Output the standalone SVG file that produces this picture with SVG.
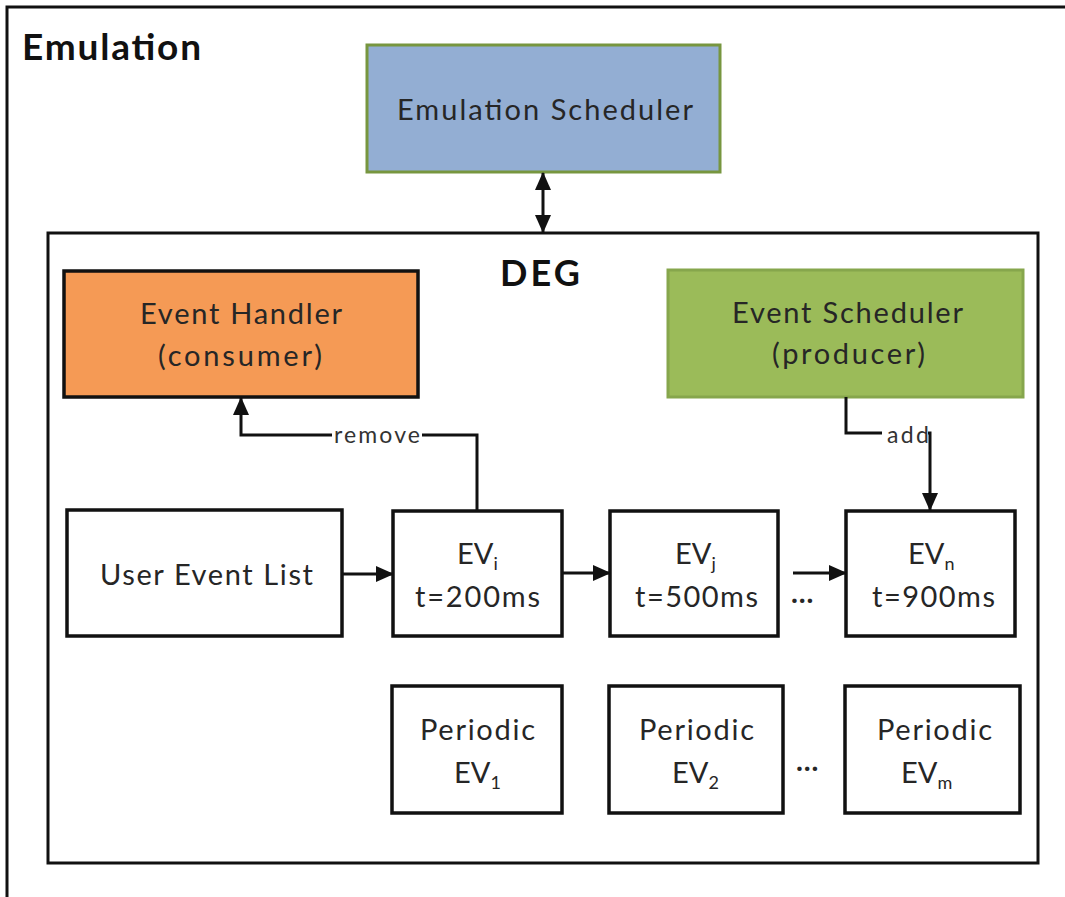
<svg xmlns="http://www.w3.org/2000/svg" width="1065" height="897" viewBox="0 0 1065 897">
  <style>
    .frame { fill: none; stroke: #111; stroke-width: 3; }
    .box { fill: #fff; stroke: #111; stroke-width: 3.5; }
    .lbl { font-family: Lato, "Liberation Sans", sans-serif; font-size: 29px; fill: #262626; }
    .sub { font-size: 18px; }
    .title { font-family: Lato, "Liberation Sans", sans-serif; font-weight: bold; fill: #111; }
    .edge { fill: none; stroke: #111; stroke-width: 3; }
    .elbl { font-family: Lato, "Liberation Sans", sans-serif; font-size: 23px; fill: #333; }
  </style>
  <defs>
    <marker id="arrow" markerUnits="userSpaceOnUse" viewBox="0 0 18 16" refX="17" refY="8" markerWidth="18" markerHeight="16" orient="auto-start-reverse">
      <path d="M0,0 L18,8 L0,16 z" fill="#111"/>
    </marker>
  </defs>

  <rect width="1065" height="897" fill="#fff"/>

  <!-- outer emulation frame (continues past the right and bottom edges) -->
  <g id="emulation">
    <rect class="frame" x="7" y="7" width="1200" height="1000"/>
    <text class="title" x="22" y="60" font-size="37" textLength="179">Emulation</text>
  </g>

  <g id="emulation-scheduler">
    <rect x="367" y="45" width="353" height="127" fill="#93AED3" stroke="#77963F" stroke-width="3"/>
    <text class="lbl" x="397" y="120" textLength="296">Emulation Scheduler</text>
  </g>

  <g id="deg">
    <rect class="frame" x="48" y="233" width="990" height="630" stroke-width="3.5"/>
    <text class="title" x="500" y="286" font-size="36" textLength="80">DEG</text>
  </g>

  <g id="event-handler">
    <rect x="64" y="271" width="354" height="126" fill="#F59A55" stroke="#111" stroke-width="3.5"/>
    <text class="lbl" x="140" y="324" textLength="202">Event Handler</text>
    <text class="lbl" x="158" y="366" textLength="164">(consumer)</text>
  </g>

  <g id="event-scheduler">
    <rect x="668" y="270" width="355" height="127" fill="#9BBB59" stroke="#86A64C" stroke-width="3"/>
    <text class="lbl" x="732" y="323" textLength="231">Event Scheduler</text>
    <text class="lbl" x="772" y="364" textLength="153">(producer)</text>
  </g>

  <g id="user-event-list">
    <rect class="box" x="67" y="510" width="275" height="126"/>
    <text class="lbl" x="100" y="585" textLength="213">User Event List</text>
  </g>

  <g id="ev-i">
    <rect class="box" x="393" y="511" width="169" height="125"/>
    <text class="lbl" x="457" y="564">EV<tspan class="sub" dy="6">i</tspan></text>
    <text class="lbl" x="415" y="607" textLength="125">t=200ms</text>
  </g>

  <g id="ev-j">
    <rect class="box" x="610" y="511" width="168" height="125"/>
    <text class="lbl" x="675" y="564">EV<tspan class="sub" dy="6">j</tspan></text>
    <text class="lbl" x="635" y="607" textLength="123">t=500ms</text>
  </g>

  <g id="ev-n">
    <rect class="box" x="846" y="511" width="169" height="125"/>
    <text class="lbl" x="908" y="564">EV<tspan class="sub" dy="6">n</tspan></text>
    <text class="lbl" x="872" y="607" textLength="123">t=900ms</text>
  </g>

  <g id="periodic-1">
    <rect class="box" x="392" y="686" width="170" height="127"/>
    <text class="lbl" x="420" y="740" textLength="115">Periodic</text>
    <text class="lbl" x="454" y="783">EV<tspan class="sub" dy="6">1</tspan></text>
  </g>

  <g id="periodic-2">
    <rect class="box" x="609" y="686" width="174" height="127"/>
    <text class="lbl" x="639" y="740" textLength="115">Periodic</text>
    <text class="lbl" x="672" y="783">EV<tspan class="sub" dy="6">2</tspan></text>
  </g>

  <g id="periodic-m">
    <rect class="box" x="845" y="686" width="175" height="127"/>
    <text class="lbl" x="877" y="740" textLength="115">Periodic</text>
    <text class="lbl" x="901" y="783">EV<tspan class="sub" dy="6">m</tspan></text>
  </g>

  <!-- ellipses between list items -->
  <text class="lbl" x="791" y="603" font-weight="bold">…</text>
  <text class="lbl" x="796" y="771" font-weight="bold">…</text>

  <g id="connectors">
    <path class="edge" d="M543,173 V232" marker-start="url(#arrow)" marker-end="url(#arrow)"/>
    <path class="edge" d="M342,574 H393" marker-end="url(#arrow)"/>
    <path class="edge" d="M562,573 H610" marker-end="url(#arrow)"/>
    <path class="edge" d="M793,573 H846" marker-end="url(#arrow)"/>
    <path class="edge" d="M477,511 V435 H241 V398" marker-end="url(#arrow)"/>
    <path class="edge" d="M846,397 V433 H930 V510" marker-end="url(#arrow)"/>
    <g id="label-remove">
      <rect x="332" y="424" width="90" height="24" fill="#fff"/>
      <text class="elbl" x="334" y="443" textLength="86">remove</text>
    </g>
    <g id="label-add">
      <rect x="882" y="424" width="46" height="24" fill="#fff"/>
      <text class="elbl" x="887" y="443" textLength="42">add</text>
    </g>
  </g>
</svg>
